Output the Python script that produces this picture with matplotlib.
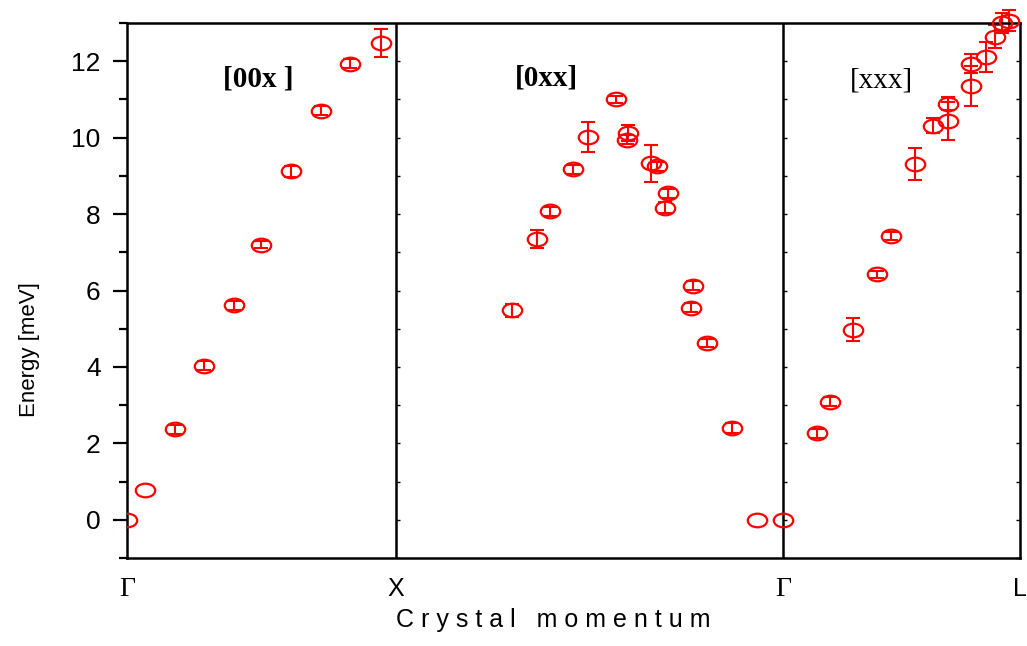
import numpy as np
import matplotlib
matplotlib.use("Agg")
import matplotlib.pyplot as plt
from matplotlib.path import Path
from matplotlib.markers import TICKRIGHT, TICKLEFT

plt.rcParams['font.family'] = 'Liberation Sans'

# positions along the path in units of Gamma-X
# [00x] branch
q_00x = [0.0, 0.067, 0.178, 0.286, 0.398, 0.498, 0.610, 0.721, 0.829, 0.944]
e_00x = [0.0, 0.77, 2.37, 4.03, 5.61, 7.20, 9.12, 10.70, 11.93, 12.47]
d_00x = [np.nan, np.nan, 0.12, 0.12, 0.12, 0.10, 0.15, 0.12, 0.12, 0.37]

# [0xx] branch
q_0xx = [1.430, 1.524, 1.572, 1.658, 1.714, 1.818, 1.862, 1.858, 1.948, 1.970,
         2.011, 2.000, 2.103, 2.097, 2.155, 2.248, 2.341, 2.438]
e_0xx = [5.48, 7.34, 8.07, 9.17, 10.02, 11.00, 10.12, 9.95, 9.33, 9.25,
         8.54, 8.17, 6.13, 5.55, 4.63, 2.40, 0.0, 0.0]
d_0xx = [0.17, 0.24, 0.12, 0.12, 0.39, 0.10, 0.20, 0.12, 0.49, 0.12,
         0.12, 0.15, 0.12, 0.12, 0.10, 0.12, np.nan, np.nan]

# [xxx] branch
q_xxx = [2.564, 2.613, 2.699, 2.787, 2.840, 2.929, 2.997, 3.053, 3.053, 3.138,
         3.138, 3.193, 3.227, 3.253, 3.279]
e_xxx = [2.26, 3.09, 4.97, 6.42, 7.43, 9.32, 10.31, 10.89, 10.44, 11.94,
         11.36, 12.11, 12.64, 13.00, 13.06]
d_xxx = [0.12, 0.12, 0.30, 0.10, 0.10, 0.42, 0.20, 0.17, 0.50, 0.26,
         0.52, 0.38, 0.30, 0.25, 0.28]

sym_pts = [0.0, 1.0, 2.439, 3.320]
sym_labels = ['\u0393', 'X', '\u0393', 'L']
branch_labels = ['[00x ]', '[0xx]', '[xxx]']
branch_label_pos = [(0.487, 11.53), (1.56, 11.55), (2.805, 11.5)]

# flattened ellipse marker
circ = Path.unit_circle()
ellipse = Path(circ.vertices * np.array([1.0, 0.7]), circ.codes)

fig = plt.figure(figsize=(10.27, 6.46), dpi=100)
ax = fig.add_axes([0.1237, 0.1362, 0.8695, 0.8282])

style = dict(fmt='none', ecolor='red', elinewidth=1.5, capsize=5, capthick=1.5)
mstyle = dict(ls='none', marker=ellipse, ms=14, mfc='none', mec='red', mew=1.6)

for q, e, d, clip in [(q_00x, e_00x, d_00x, True),
                      (q_0xx, e_0xx, d_0xx, False),
                      (q_xxx, e_xxx, d_xxx, False)]:
    eb = ax.errorbar(q, e, yerr=d, **style)
    for art in eb.lines[1] + eb.lines[2]:
        art.set_clip_on(clip)
    ax.plot(q, e, clip_on=clip, zorder=3, **mstyle)

ax.set_xlim(sym_pts[0], sym_pts[-1])
ax.set_ylim(-1, 13)

# panel dividers with small inward ticks
yt = np.arange(-1, 14)
for xd in sym_pts[1:3]:
    ax.axvline(xd, color='black', lw=1.8)
    ax.plot([xd] * len(yt), yt, ls='none', marker=TICKRIGHT, ms=3, mew=1, color='black')
ax.plot([sym_pts[-1]] * len(yt), yt, ls='none', marker=TICKLEFT, ms=3, mew=1,
        color='black', clip_on=False)

for lab, (px, py), w in zip(branch_labels, branch_label_pos, ['bold', 'bold', 'normal']):
    ax.text(px, py, lab, family='Liberation Serif', fontsize=21, fontweight=w,
            ha='center', va='center')

ax.set_yticks(np.arange(0, 13, 2))
ax.set_yticks(np.arange(-1, 14, 2), minor=True)
ax.tick_params(axis='y', which='major', direction='out', length=10, width=1.6,
               labelsize=19, pad=9)
ax.tick_params(axis='y', which='minor', direction='out', length=6, width=1.6)

ax.set_xticks(sym_pts)
ax.set_xticklabels(sym_labels)
ax.tick_params(axis='x', length=0, labelsize=18, pad=14)
for t, fam in zip(ax.get_xticklabels(), ['Liberation Serif', 'Liberation Sans',
                                         'Liberation Serif', 'Liberation Sans']):
    t.set_family(fam)
    if fam == 'Liberation Serif':
        t.set_fontsize(20)

for s in ax.spines.values():
    s.set_linewidth(1.8)

ax.set_ylabel('Energy [meV]', fontsize=16)
ax.yaxis.set_label_coords(-0.098, 0.39)

ax.set_xlabel('C r y s t a l   m o m e n t u m', fontsize=18)
ax.xaxis.set_label_coords(0.477, -0.093)

fig.savefig('out.png', dpi=100)
